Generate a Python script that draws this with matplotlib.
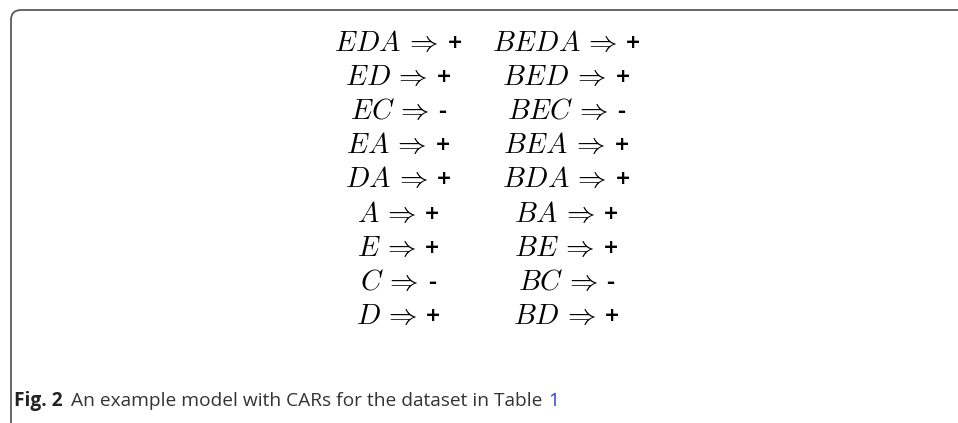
import matplotlib

matplotlib.use("Agg")
import matplotlib.pyplot as plt
from matplotlib.patches import PathPatch
from matplotlib.path import Path

plt.rcParams["mathtext.fontset"] = "cm"
plt.rcParams["font.family"] = ["Open Sans", "DejaVu Sans"]

W, H = 958, 423

left_rules = ["EDA", "ED", "EC", "EA", "DA", "A", "E", "C", "D"]
right_rules = ["BEDA", "BED", "BEC", "BEA", "BDA", "BA", "BE", "BC", "BD"]
signs = ["+", "+", "-", "+", "+", "+", "+", "-", "+"]
caption_bold = "Fig. 2"
caption_text = "An example model with CARs for the dataset in Table "
caption_ref = "1"

fig = plt.figure(figsize=(W / 100, H / 100), dpi=100)


def fx(px):
    return px / W


def fy(py):
    return 1 - py / H


# rounded frame: left edge and top edge only
r = 10
verts = [(fx(11), fy(H + 5)), (fx(11), fy(10 + r)), (fx(11), fy(10)), (fx(11 + r), fy(10)), (fx(W + 5), fy(10))]
codes = [Path.MOVETO, Path.LINETO, Path.CURVE3, Path.CURVE3, Path.LINETO]
fig.add_artist(PathPatch(Path(verts, codes), fill=False, edgecolor="#5a5a5a", lw=1.3,
                         transform=fig.transFigure))

renderer = fig.canvas.get_renderer()


def rule(cx, y, lhs, sign):
    # math part and sign measured, then the pair is centred on cx
    m = fig.text(0, y, rf"${lhs}\,\Rightarrow$", ha="left", va="baseline", fontsize=20.5)
    s = fig.text(0, y, sign, ha="left", va="baseline", fontsize=18, fontweight="semibold")
    wm = m.get_window_extent(renderer).width
    ws = s.get_window_extent(renderer).width
    gap = 9
    x0 = cx - (wm + gap + ws) / 2
    m.set_x(fx(x0))
    s.set_x(fx(x0 + wm + gap))


base0, step = 51, 34.1
for i, (lhs, rhs, s) in enumerate(zip(left_rules, right_rules, signs)):
    y = fy(base0 + i * step)
    rule(398, y, lhs, s)
    rule(566, y, rhs, s)

cap_y = fy(406)
t = fig.text(fx(14), cap_y, caption_bold, ha="left", va="baseline", fontsize=13.8, fontweight="bold", color="#222222")
bb = t.get_window_extent(renderer)
t2 = fig.text((bb.x1 + 8) / W, cap_y, caption_text, ha="left", va="baseline", fontsize=13.8, color="#333333")
bb2 = t2.get_window_extent(renderer)
fig.text((bb2.x1 + 1) / W, cap_y, caption_ref, ha="left", va="baseline", fontsize=13.8, color="#2b3fd6")

fig.savefig("out.png", dpi=100)
